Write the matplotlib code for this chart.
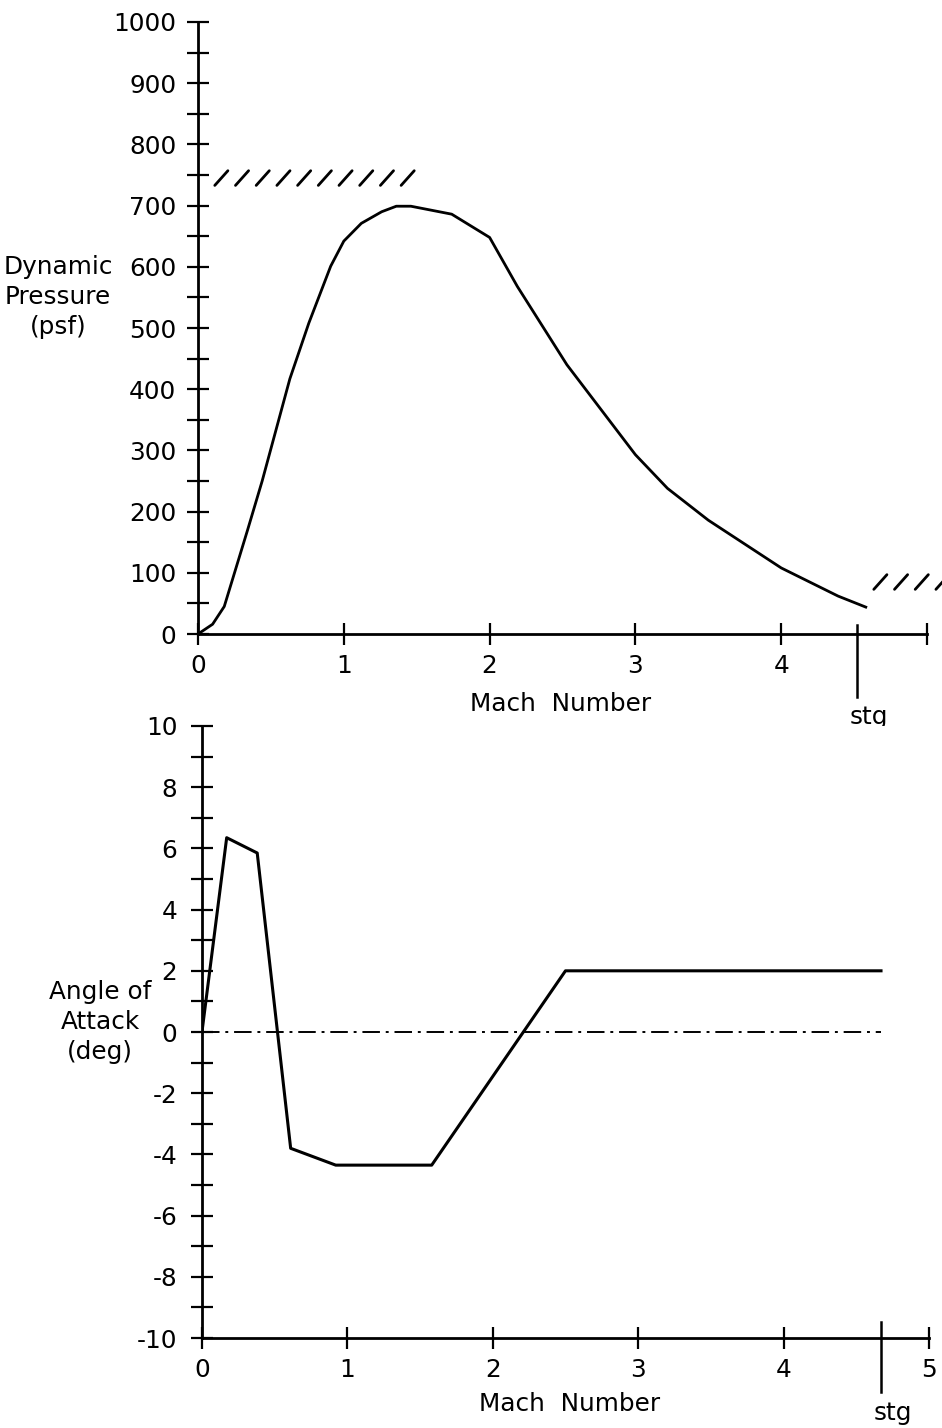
import matplotlib.pyplot as plt
import numpy as np

plt.rcParams['font.family'] = ['DejaVu Sans']
plt.rcParams['axes.unicode_minus'] = False

# dynamic pressure vs mach
mach_q = [0, 0.1, 0.18, 0.34, 0.44, 0.63, 0.76, 0.91, 1.0, 1.12, 1.26, 1.36, 1.46,
          1.74, 2.0, 2.19, 2.53, 3.0, 3.22, 3.5, 4.0, 4.39, 4.58]
q_psf = [0, 16, 45, 170, 250, 417, 508, 601, 642, 671, 690, 699, 699,
         686, 648, 568, 440, 293, 238, 186, 108, 62, 44]

# angle of attack vs mach
mach_a = [0, 0.17, 0.38, 0.61, 0.92, 1.58, 2.5, 4.67]
alpha_deg = [0, 6.35, 5.85, -3.8, -4.35, -4.35, 2.0, 2.0]

# limits (hatched) and staging
q_upper = 745
q_upper_mach = (0.1, 1.46)
q_lower = 85
q_lower_mach = (4.63, 5.2)
stg_q = 4.52
stg_a = 4.67

fs = 17.8

fig = plt.figure(figsize=(9.42, 14.28), dpi=100)
ax1 = fig.add_axes([0.2102, 0.556, 0.7739, 0.4286])
ax2 = fig.add_axes([0.2144, 0.063, 0.7718, 0.4286])

lw_axis = 2.0
for ax in (ax1, ax2):
    for s in ('top', 'right'):
        ax.spines[s].set_visible(False)
    ax.spines['left'].set_linewidth(lw_axis)
    ax.spines['bottom'].set_linewidth(lw_axis)
    ax.set_xlim(0, 5)
    ax.tick_params(direction='inout', length=16.5, width=1.6, labelsize=fs,
                   which='both')
    ax.set_xticks([0, 1, 2, 3, 4, 5])

def hatch(ax, m0, m1, level, dm, dl):
    centers = np.arange(m0, m1, 0.142)
    for c in centers:
        ax.plot([c - dm, c + dm], [level - dl, level + dl], color='black',
                lw=2.0, solid_capstyle='round', clip_on=False)

# top panel
ax1.plot(mach_q, q_psf, color='black', lw=2.0)
ax1.set_ylim(0, 1000)
ax1.set_yticks(np.arange(0, 1001, 100))
ax1.set_yticks(np.arange(50, 1000, 100), minor=True)
ax1.tick_params(axis='y', pad=7.5)
ax1.tick_params(axis='x', pad=6)
ax1.set_xticklabels(['0', '1', '2', '3', '4', ''])
hatch(ax1, q_upper_mach[0] + 0.06, q_upper_mach[1], q_upper, 0.045, 12)
hatch(ax1, q_lower_mach[0] + 0.05, q_lower_mach[1], q_lower, 0.045, 12)
ax1.plot([stg_q, stg_q], [15, -103], color='black', lw=1.8, clip_on=False)
ax1.text(0.497, -0.115, 'Mach  Number', transform=ax1.transAxes, ha='center',
         va='center', fontsize=fs)
ax1.text(stg_q + 0.08, -135, 'stg', ha='center', va='center', fontsize=fs)
fig.text(58 / 942, 1 - 297 / 1428, 'Dynamic\nPressure\n(psf)', ha='center',
         va='center', fontsize=fs, linespacing=1.32)

# bottom panel
ax2.plot(mach_a, alpha_deg, color='black', lw=2.2)
ax2.plot([0, stg_a], [0, 0], color='black', lw=1.4, linestyle=(0, (9, 3, 1.5, 3)))
ax2.set_ylim(-10, 10)
ax2.set_yticks(np.arange(-10, 11, 2))
ax2.set_yticks(np.arange(-9, 10, 2), minor=True)
ax2.tick_params(axis='y', pad=9.5)
ax2.tick_params(axis='x', pad=6)
ax2.plot([stg_a, stg_a], [-9.48, -11.76], color='black', lw=1.8, clip_on=False)
ax2.text(0.505, -0.108, 'Mach  Number', transform=ax2.transAxes, ha='center',
         va='center', fontsize=fs)
ax2.text(stg_a + 0.08, -12.45, 'stg', ha='center', va='center', fontsize=fs)
fig.text(100 / 942, 1 - 1022 / 1428, 'Angle of\nAttack\n(deg)', ha='center',
         va='center', fontsize=fs, linespacing=1.32)

fig.savefig('out.png', dpi=100)
